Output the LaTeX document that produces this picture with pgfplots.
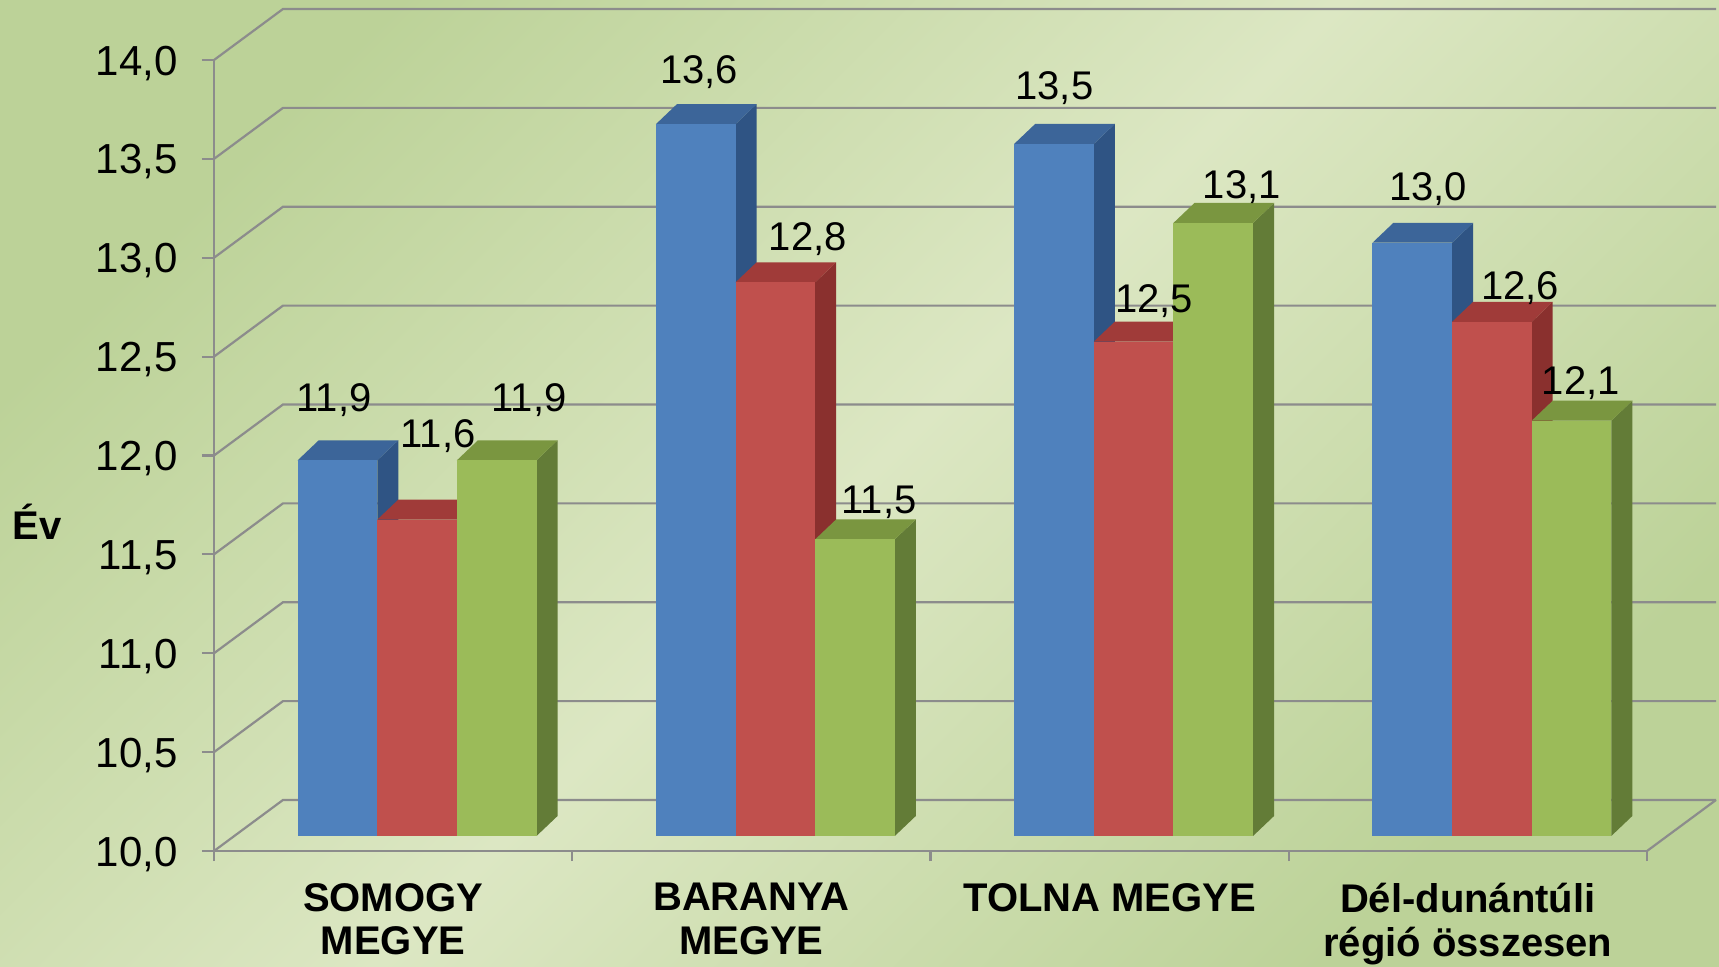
\documentclass[border=0pt]{standalone}
\usepackage{fontspec}
\setmainfont{Liberation Sans}
\usepackage{pgfplots}
\usepackage{pgfplotstable}
\pgfplotsset{compat=1.18}

\definecolor{bgdark}{HTML}{BCD298}
\definecolor{bglight}{HTML}{DCE7C3}
\definecolor{gridc}{HTML}{8C8C8C}
\definecolor{bluef}{HTML}{4F81BD}\definecolor{blues}{HTML}{2F5484}\definecolor{bluet}{HTML}{3C6599}
\definecolor{redf}{HTML}{C0504D}\definecolor{reds}{HTML}{8A302E}\definecolor{redt}{HTML}{A03B39}
\definecolor{greenf}{HTML}{9BBB59}\definecolor{greens}{HTML}{637C37}\definecolor{greent}{HTML}{7A9640}

% x = category, v = value, dx/dy = label offset (pt)
\pgfplotstableread{
x v dx dy
0 11.9 -1.7 39.2
1 13.6 1.7 35
2 13.5 0.2 36.7
3 13.0 8 35.7
}\bluedata
\pgfplotstableread{
x v dx dy
0 11.6 10.5 50.8
1 12.8 16.2 30.8
2 12.5 10.3 29.2
3 12.6 14.2 26
}\reddata
\pgfplotstableread{
x v dx dy
0 11.9 16.2 39.2
1 11.5 12 27.8
2 13.1 14.3 26.9
3 12.1 4.6 27.7
}\greendata

\def\dxb{0.1926}\def\dyb{0.258}
\def\dxp{0.067}\def\dyp{0.0759}
\def\bw{0.2222}
\def\dxd{0.0586}\def\dyd{0.101}

\newcommand\barthreed[4]{%
  \pgfplotstablegetelem{#2}{v}\of{#1}%
  \pgfmathsetmacro\bYt{\pgfplotsretval+\dyp}%
  \pgfmathsetmacro\bYb{10+\dyp}%
  \pgfmathsetmacro\bXl{#2+0.5+\dxp+(#3)*\bw-\bw/2}%
  \pgfmathsetmacro\bXr{\bXl+\bw}%
  \pgfmathsetmacro\bXld{\bXl+\dxd}%
  \pgfmathsetmacro\bXrd{\bXr+\dxd}%
  \pgfmathsetmacro\bYtd{\bYt+\dyd}%
  \pgfmathsetmacro\bYbd{\bYb+\dyd}%
  \edef\bTmp{%
    \noexpand\addplot[draw=none,fill=#4s,mark=none,forget plot] coordinates {(\bXr,\bYb) (\bXrd,\bYbd) (\bXrd,\bYtd) (\bXr,\bYt)};
    \noexpand\addplot[draw=none,fill=#4t,mark=none,forget plot] coordinates {(\bXl,\bYt) (\bXr,\bYt) (\bXrd,\bYtd) (\bXld,\bYtd)};
    \noexpand\addplot[draw=none,fill=#4f,mark=none,forget plot] coordinates {(\bXl,\bYb) (\bXr,\bYb) (\bXr,\bYt) (\bXl,\bYt)};
  }\bTmp
}

\pgfplotsset{
  vallabels/.style={draw=none, mark=none, forget plot,
    point meta=explicit,
    nodes near coords={\pgfmathprintnumber[fixed,fixed zerofill,precision=1,use comma,assume math mode=true]{\pgfplotspointmeta}},
    visualization depends on={\thisrow{dx}\as\ldx},
    visualization depends on={\thisrow{dy}\as\ldy},
    every node near coord/.append style={anchor=base, inner sep=0pt,
      xshift=\ldx pt, yshift={(\ldy-7.2)*1pt}, font=\fontsize{20}{24}\selectfont, text=black}},
}

\begin{document}
\begin{tikzpicture}
\useasboundingbox (0,0) rectangle (859.5pt,483pt);
\shade[top color=bgdark, bottom color=bgdark, middle color=bglight, shading angle=45] (0,0) rectangle (859.5pt,483pt);
\begin{axis}[
  at={(107pt,57.5pt)}, anchor=south west,
  scale only axis, width=716.5pt, height=395.5pt,
  xmin=0, xmax=4, ymin=10, ymax=14, clip=false,
  axis x line*=bottom, axis y line*=left,
  axis line style={gridc, line width=1.1pt},
  every outer x axis line/.append style={-},
  every outer y axis line/.append style={-},
  ytick={10,10.5,11,11.5,12,12.5,13,13.5,14},
  xtick={0.5,1.5,2.5,3.5},
  xticklabels={{SOMOGY\\MEGYE},{BARANYA\\MEGYE},{TOLNA MEGYE},{Dél-dunántúli\\régió összesen}},
  minor xtick={0,1,2,3,4},
  tick align=outside,
  major tick length=6pt, minor tick length=5pt,
  tick style={gridc, line width=1.1pt},
  major x tick style={draw=none},
  scaled y ticks=false,
  yticklabel style={/pgf/number format/fixed, /pgf/number format/fixed zerofill,
    /pgf/number format/precision=1, /pgf/number format/use comma,
    /pgf/number format/assume math mode=true,
    font=\fontsize{21}{25}\selectfont, anchor=base east, inner sep=0pt, yshift=-7.5pt, xshift=-12pt},
  xticklabel style={font=\fontsize{20}{21.7}\selectfont\bfseries, align=center, anchor=north, inner sep=0pt, yshift=-10pt},
  ylabel={\bfseries Év},
  ylabel style={font=\fontsize{20}{24}\selectfont, at={(axis description cs:-0.1235,0.416)}, anchor=center, rotate=-90},
]
\pgfplotsinvokeforeach{10,10.5,11,11.5,12,12.5,13,13.5,14}{
  \draw[gridc, line width=1.1pt] (axis cs:0,#1) -- (axis cs:\dxb,{#1+\dyb}) -- (axis cs:{4+\dxb},{#1+\dyb});
}
\draw[gridc, line width=1.1pt] (axis cs:4,10) -- (axis cs:{4+\dxb},{10+\dyb});

\barthreed{\bluedata}{0}{-1}{blue}
\barthreed{\reddata}{0}{0}{red}
\barthreed{\greendata}{0}{1}{green}
\barthreed{\bluedata}{1}{-1}{blue}
\barthreed{\reddata}{1}{0}{red}
\barthreed{\greendata}{1}{1}{green}
\barthreed{\bluedata}{2}{-1}{blue}
\barthreed{\reddata}{2}{0}{red}
\barthreed{\greendata}{2}{1}{green}
\barthreed{\bluedata}{3}{-1}{blue}
\barthreed{\reddata}{3}{0}{red}
\barthreed{\greendata}{3}{1}{green}

\addplot[vallabels] table[x expr=\thisrow{x}+0.5+\dxp-\bw, y=v, meta=v]{\bluedata};
\addplot[vallabels] table[x expr=\thisrow{x}+0.5+\dxp, y=v, meta=v]{\reddata};
\addplot[vallabels] table[x expr=\thisrow{x}+0.5+\dxp+\bw, y=v, meta=v]{\greendata};
\end{axis}
\end{tikzpicture}
\end{document}
